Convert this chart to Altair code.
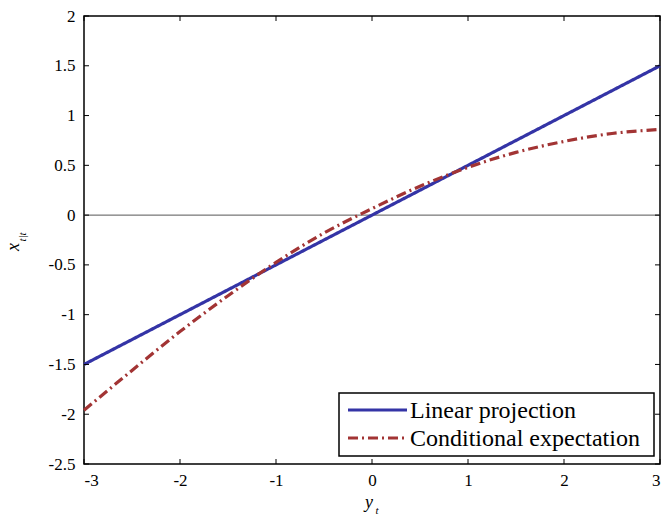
import altair as alt
import pandas as pd

# ---- data ----
lin_x = [-3, 3]
lin_y = [-1.5, 1.5]
ce_x = [-3, -2.5, -2, -1.5, -1, -0.5, 0, 0.5, 1, 1.5, 2, 2.5, 3]
ce_y = [-1.96, -1.56, -1.17, -0.81, -0.475, -0.18, 0.065, 0.29, 0.48, 0.63, 0.74, 0.82, 0.86]
series_names = ["Linear projection", "Conditional expectation"]
x_ticks = [-3, -2, -1, 0, 1, 2, 3]
y_ticks = [-2.5, -2, -1.5, -1, -0.5, 0, 0.5, 1, 1.5, 2]

W, H = 576, 448
FONT = "Liberation Serif"
BLUE = "#3434a6"
RED = "#a23434"
DASH = [10, 4, 2, 4]

rows = []
for x, y in zip(lin_x, lin_y):
    rows.append({"x": x, "y": y, "series": series_names[0]})
for x, y in zip(ce_x, ce_y):
    rows.append({"x": x, "y": y, "series": series_names[1]})
df = pd.DataFrame(rows)

xs = alt.Scale(domain=[-3, 3], nice=False, zero=False)
ys = alt.Scale(domain=[-2.5, 2], nice=False, zero=False)

LABEL_EXPR = "datum.value < 0 ? '-' + format(-datum.value, '') : format(datum.value, '')"

lines = alt.Chart(df).mark_line(strokeWidth=3.2, interpolate="monotone").encode(
    x=alt.X("x:Q", scale=xs,
            axis=alt.Axis(values=x_ticks, title=None, grid=False, ticks=False, domain=False,
                          labelFont=FONT, labelFontSize=17, labelColor="black",
                          labelPadding=8, labelExpr=LABEL_EXPR)),
    y=alt.Y("y:Q", scale=ys,
            axis=alt.Axis(values=y_ticks, title=None, grid=False, ticks=False, domain=False,
                          labelFont=FONT, labelFontSize=17, labelColor="black",
                          labelPadding=9, labelExpr=LABEL_EXPR)),
    color=alt.Color("series:N",
                    scale=alt.Scale(domain=series_names, range=[BLUE, RED]),
                    legend=None),
    strokeDash=alt.StrokeDash("series:N",
                              scale=alt.Scale(domain=series_names, range=[[1, 0], DASH]),
                              legend=None),
)

zero = alt.Chart(pd.DataFrame({"y": [0]})).mark_rule(color="#555555", strokeWidth=1).encode(
    y=alt.Y("y:Q", scale=ys)
)

xt = pd.DataFrame({"x": x_ticks})
yt = pd.DataFrame({"y": y_ticks})
tick_bottom = alt.Chart(xt).mark_rule(color="black", strokeWidth=1).encode(
    x=alt.X("x:Q", scale=xs), y=alt.value(H), y2=alt.value(H - 5))
tick_top = alt.Chart(xt).mark_rule(color="black", strokeWidth=1).encode(
    x=alt.X("x:Q", scale=xs), y=alt.value(0), y2=alt.value(5))
tick_left = alt.Chart(yt).mark_rule(color="black", strokeWidth=1).encode(
    y=alt.Y("y:Q", scale=ys), x=alt.value(0), x2=alt.value(5))
tick_right = alt.Chart(yt).mark_rule(color="black", strokeWidth=1).encode(
    y=alt.Y("y:Q", scale=ys), x=alt.value(W), x2=alt.value(W - 5))

# axis titles with subscripts
t_df = pd.DataFrame({"a": [0]})
xtitle_main = alt.Chart(t_df).mark_text(font=FONT, fontSize=18, fontStyle="italic",
                                        color="black").encode(
    x=alt.value(285), y=alt.value(487), text=alt.value("y"))
xtitle_sub = alt.Chart(t_df).mark_text(font=FONT, fontSize=11, fontStyle="italic",
                                       color="black").encode(
    x=alt.value(293), y=alt.value(495), text=alt.value("t"))
ytitle_main = alt.Chart(t_df).mark_text(font=FONT, fontSize=18, fontStyle="italic",
                                        color="black", angle=270).encode(
    x=alt.value(-70), y=alt.value(231), text=alt.value("x"))
ytitle_sub = alt.Chart(t_df).mark_text(font=FONT, fontSize=11, fontStyle="italic",
                                       color="black", angle=270).encode(
    x=alt.value(-61), y=alt.value(221), text=alt.value("t|t"))

# legend (drawn as marks)
LX0, LX1, LY0, LY1 = 255, 570, 377, 440
leg_box = alt.Chart(t_df).mark_rect(fill="white", stroke="black", strokeWidth=1.5).encode(
    x=alt.value(LX0), x2=alt.value(LX1), y=alt.value(LY0), y2=alt.value(LY1))
leg_line1 = alt.Chart(t_df).mark_rule(color=BLUE, strokeWidth=3).encode(
    x=alt.value(264), x2=alt.value(323), y=alt.value(394))
leg_line2 = alt.Chart(t_df).mark_rule(color=RED, strokeWidth=3, strokeDash=DASH).encode(
    x=alt.value(264), x2=alt.value(323), y=alt.value(422))
leg_text1 = alt.Chart(t_df).mark_text(font=FONT, fontSize=24, color="black",
                                      align="left", baseline="middle").encode(
    x=alt.value(326), y=alt.value(395), text=alt.value(series_names[0]))
leg_text2 = alt.Chart(t_df).mark_text(font=FONT, fontSize=24, color="black",
                                      align="left", baseline="middle").encode(
    x=alt.value(326), y=alt.value(423), text=alt.value(series_names[1]))

chart = alt.layer(
    zero, lines, tick_bottom, tick_top, tick_left, tick_right,
    leg_box, leg_line1, leg_line2, leg_text1, leg_text2,
    xtitle_main, xtitle_sub, ytitle_main, ytitle_sub
).properties(
    width=W, height=H,
    autosize=alt.AutoSizeParams(type="none"),
    padding={"left": 84, "top": 16, "right": 2, "bottom": 54},
).configure_view(
    stroke="black", strokeWidth=1.5
)

chart.save("out.html", embed_options={"renderer": "svg", "actions": False})
